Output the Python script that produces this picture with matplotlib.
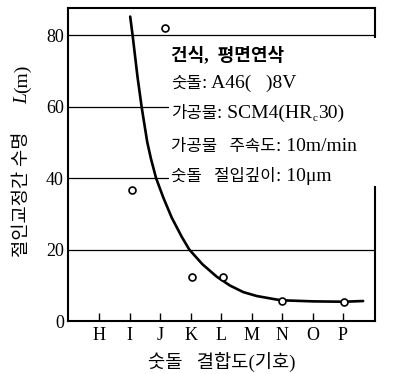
import matplotlib.pyplot as plt
from matplotlib.patches import Rectangle

plt.rcParams['font.family'] = ['Liberation Serif', 'Noto Sans CJK KR']

# categories (grinding wheel grade)
grades = ['H', 'I', 'J', 'K', 'L', 'M', 'N', 'O', 'P']

# measured points (x as grade index, L in m)
pt_x = [1.08, 2.16, 3.05, 4.07, 6.0, 8.03]
pt_L = [36.7, 82.0, 12.2, 12.2, 5.7, 5.4]

# fitted curve
curve_x = [1.02, 1.10, 1.26, 1.40, 1.58, 1.70, 1.87, 2.11, 2.38, 2.71, 2.96,
           3.39, 3.86, 4.30, 4.73, 5.17, 5.83, 6.0, 7.02, 8.03, 8.66]
curve_L = [85.3, 80.0, 68.4, 59.7, 50.1, 45.5, 40.0, 34.5, 29.0, 23.6, 20.0,
           15.9, 12.4, 9.9, 8.1, 7.0, 6.0, 5.8, 5.5, 5.4, 5.6]

yticks = [0, 20, 40, 60, 80]

KO, LAT = 12, 14
notes = [
    [('건식,  평면연삭', 13, dict(fontweight='bold'))],
    [('숫돌', KO, {}), (': A46(   )8V', LAT, {})],
    [('가공물', KO, {}), (': SCM4(HR', LAT, {}),
     ('c', 8, dict(xytext=(0.3, -2.5), textcoords='offset points')),
     ('30)', LAT, {})],
    [('가공물   주속도', KO, {}), (': 10m/min', LAT, {})],
    [('숫돌   절입깊이', KO, {}), (': 10μm', LAT, {})],
]
note_y = [73.1, 65.3, 56.9, 47.6, 39.2]

fig = plt.figure(figsize=(3.93, 3.74), dpi=100)
ax = fig.add_axes([68 / 393, 53 / 374, 307 / 393, 313 / 374])

ax.set_xlim(-1.02, 9.05)
ax.set_ylim(0, 87.7)

for y in yticks[1:]:
    ax.axhline(y, color='black', lw=0.9, zorder=1)

ax.plot(curve_x, curve_L, color='black', lw=1.9, zorder=3,
        solid_capstyle='round', solid_joinstyle='round')
ax.plot(pt_x, pt_L, 'o', ms=5, mfc='white', mec='black', mew=1.2, zorder=4)

# white area behind the notes (it hides grid lines and part of the right frame)
ax.add_patch(Rectangle((2.29, 37.7), 7.4, 41.6, facecolor='white',
                       edgecolor='none', zorder=2.8, clip_on=False))


def chain(x, y, pieces):
    # write pieces one after another on the same baseline
    prev = None
    for txt, size, kw in pieces:
        if prev is None:
            prev = ax.text(x, y, txt, fontsize=size, va='baseline',
                           ha='left', zorder=5, **kw)
        else:
            prev = ax.annotate(txt, xy=(1, y), xycoords=(prev, 'data'),
                               fontsize=size, va='baseline', ha='left',
                               zorder=5, **kw)


for pieces, y in zip(notes, note_y):
    chain(2.36, y, pieces)

ax.set_xticks(range(len(grades)))
ax.set_xticklabels(grades, fontsize=13)
ax.set_yticks(yticks)
ax.set_yticklabels([str(v) for v in yticks], fontsize=13)
ax.tick_params(axis='x', direction='in', length=6, width=1, pad=4)
ax.tick_params(axis='y', length=0, pad=3)

for s in ax.spines.values():
    s.set_linewidth(1.5)

ax.set_xlabel('숫돌   결합도(기호)', fontsize=13.5)
ax.xaxis.set_label_coords(0.5, -0.1)

# y label built from pieces so that L is italic
yl = ax.text(-0.1336, 0.204, '절인교정간 수명', fontsize=13.5, rotation=90,
             rotation_mode='anchor', ha='left', va='baseline',
             transform=ax.transAxes)
yl2 = ax.annotate('L', xy=(-0.1336, 1), xycoords=('axes fraction', yl),
                  xytext=(0, 20), textcoords='offset points', fontsize=14,
                  style='italic', rotation=90, rotation_mode='anchor',
                  ha='left', va='baseline')
ax.annotate('(m)', xy=(-0.1336, 1), xycoords=('axes fraction', yl2),
            fontsize=14, rotation=90, rotation_mode='anchor',
            ha='left', va='baseline')

fig.savefig('out.png', dpi=100)
